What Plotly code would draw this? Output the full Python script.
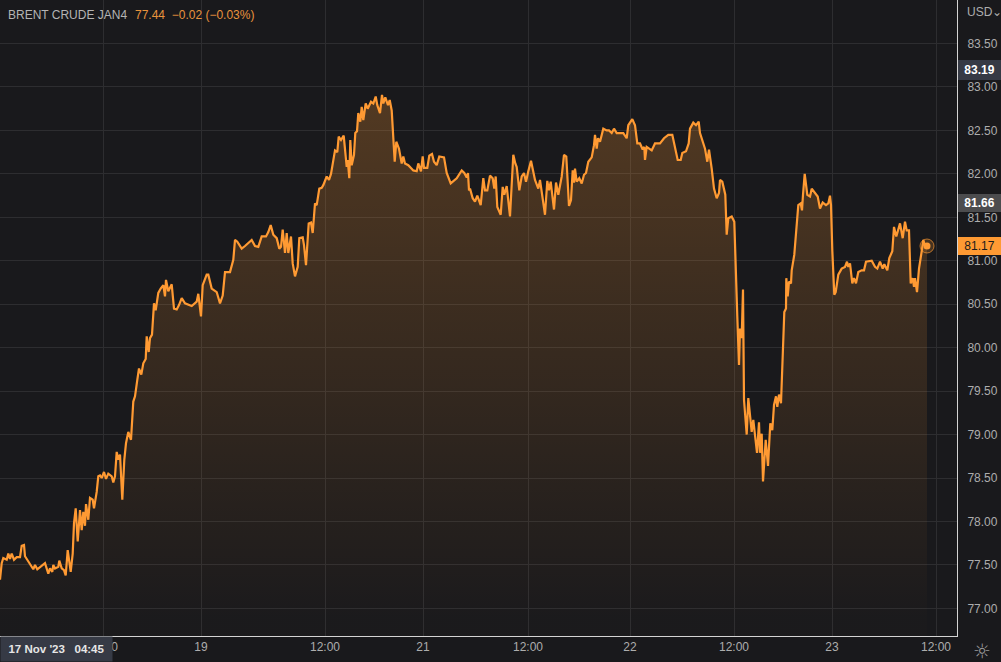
import plotly.graph_objects as go

# values, bar = position on the session timeline
bars_a = [0, 1.7, 3.3, 6.7, 8.3, 10, 11.7, 14, 16.7, 20, 21.7, 24, 25, 28.3, 33.3, 35, 37.3, 45, 48.3, 50, 52.3, 53.3, 55, 58.3, 59.3, 61.7, 64, 65.7, 67.7, 70.7, 72.7, 74, 75.7, 77.7, 80, 81.7, 83.3, 85, 86, 88.3, 90, 92.7, 94, 96.7, 98.3, 100, 101.7, 104, 106, 108.3, 111.7, 113.3, 115, 116.7, 118.3, 120, 122.3, 124.3, 126, 128.3, 131, 133.3, 135, 137.3, 139, 141.3, 143.3, 145.7, 146.7, 148.7, 150, 152, 154, 155.7, 158.3, 160.7, 163.3, 165, 166, 168.3, 171.7, 174, 176.7, 179, 181.7, 185, 191.7, 196.7, 198.3, 201, 202.7, 206.7, 208.3, 211.7, 216.7, 220, 222.7, 225]
prices_a = [77.33, 77.52, 77.58, 77.56, 77.63, 77.57, 77.63, 77.56, 77.59, 77.59, 77.72, 77.73, 77.60, 77.54, 77.45, 77.50, 77.45, 77.52, 77.40, 77.46, 77.42, 77.50, 77.46, 77.48, 77.55, 77.46, 77.44, 77.38, 77.67, 77.42, 77.63, 77.98, 78.15, 77.77, 78.13, 77.90, 78.11, 77.95, 78.20, 78.02, 78.27, 78.25, 78.15, 78.34, 78.52, 78.53, 78.50, 78.57, 78.49, 78.55, 78.52, 78.45, 78.52, 78.80, 78.71, 78.77, 78.25, 78.71, 78.90, 79.03, 78.94, 79.38, 79.44, 79.63, 79.76, 79.69, 79.82, 79.87, 80.13, 79.95, 80.11, 80.15, 80.51, 80.43, 80.63, 80.68, 80.72, 80.59, 80.78, 80.65, 80.73, 80.45, 80.44, 80.49, 80.57, 80.51, 80.48, 80.53, 80.62, 80.36, 80.72, 80.84, 80.84, 80.68, 80.64, 80.51, 80.60, 80.87]

bars_b = [230, 233.3, 235, 237.3, 241.7, 245, 250, 251.7, 255, 258.3, 261.7, 266, 268.3, 270.7, 273.3, 276.7, 279.3, 281, 282.7, 285, 286.7, 288.3, 291, 292.7, 295, 297.7, 299.3, 302.7, 304, 306, 308.7, 311, 312.7, 315, 316.7, 319.3, 321.7, 323.3, 326.7, 329, 331, 335, 337.3, 338.7, 341, 343.7, 346.7, 347.7, 349.3, 350.3, 351.7, 354, 355.3, 357, 358.3, 360.3, 361.7, 363.3, 365.7, 367.7, 371, 373.3, 375.7, 377.3, 380, 382, 383.3, 385.3, 388, 389.7, 391.7, 393.3, 394.7, 396.3, 399, 401.7, 403.3, 405, 408.3, 413.3, 416.7, 418.3, 421, 422.7, 424, 427.3, 429.3, 432, 434, 436.7, 439.3, 444, 446.7, 450.7, 453.3, 456.7, 461.7, 464.3, 466.7, 468, 469]
prices_b = [80.87, 81.01, 81.24, 81.22, 81.14, 81.17, 81.22, 81.24, 81.17, 81.16, 81.28, 81.28, 81.33, 81.41, 81.30, 81.26, 81.14, 81.16, 81.36, 81.09, 81.32, 81.09, 81.28, 80.97, 80.82, 80.93, 81.26, 81.27, 81.18, 80.95, 81.43, 81.44, 81.32, 81.66, 81.64, 81.83, 81.84, 81.87, 81.97, 81.93, 82.00, 82.27, 82.25, 82.43, 82.39, 82.44, 82.08, 82.16, 81.95, 82.39, 82.10, 82.22, 82.47, 82.49, 82.70, 82.60, 82.77, 82.62, 82.81, 82.75, 82.83, 82.81, 82.89, 82.79, 82.70, 82.91, 82.81, 82.88, 82.79, 82.85, 82.73, 82.47, 82.14, 82.37, 82.29, 82.12, 82.20, 82.12, 82.10, 82.04, 82.03, 82.12, 82.03, 82.20, 82.07, 82.07, 82.21, 82.23, 82.14, 82.10, 82.20, 82.19, 82.01, 81.89, 81.92, 81.95, 82.04, 82.01, 81.96, 82.01, 81.81]

bars_c = [470, 472.7, 475, 477.3, 480.7, 483.3, 485, 487.3, 490, 492.7, 494.3, 495.7, 497.3, 500.7, 502.7, 504.3, 506.7, 510, 513.3, 515.3, 516.7, 519.3, 521.7, 524, 526, 528.3, 531, 535, 538.3, 540, 542.7, 545, 547.3, 549, 550.7, 554, 556, 558.3, 561.7, 564, 566.3, 569, 571, 572.7, 574, 575, 576.7, 579.3, 581.7, 584, 586, 588.3, 591.7, 594, 595, 596.7, 598, 600, 603.3, 606.7, 609, 611.7, 614, 616.7, 623.3, 626.7, 628.3, 632.3, 635, 637.3, 640, 642.7, 644.3, 645, 646.7, 651.7, 655, 660, 664, 668.3, 672.3, 674.3, 677.7, 680.7, 682.3, 686, 688.7, 690, 693.3, 696, 698.7]
prices_c = [81.83, 81.72, 81.68, 81.75, 81.64, 81.95, 81.81, 81.81, 81.98, 81.95, 81.83, 81.97, 81.62, 81.53, 81.85, 81.76, 81.86, 81.51, 82.22, 82.12, 82.08, 81.81, 81.97, 82.01, 81.91, 82.03, 82.15, 81.93, 81.83, 81.93, 81.70, 81.53, 81.92, 81.81, 81.91, 81.59, 81.90, 81.76, 81.97, 82.22, 82.20, 81.63, 81.70, 82.04, 81.90, 82.06, 81.91, 81.95, 81.89, 81.99, 82.01, 82.14, 82.19, 82.33, 82.45, 82.29, 82.41, 82.37, 82.52, 82.50, 82.50, 82.47, 82.52, 82.47, 82.47, 82.41, 82.56, 82.63, 82.56, 82.35, 82.35, 82.28, 82.31, 82.16, 82.31, 82.27, 82.35, 82.35, 82.41, 82.45, 82.45, 82.35, 82.16, 82.16, 82.24, 82.26, 82.35, 82.52, 82.59, 82.56, 82.60]

bars_d = [700, 705, 707.3, 709, 711.7, 714, 716.7, 719, 720, 722.3, 725.3, 726.7, 728.3, 731.7, 734.3, 736, 737.3, 739, 740, 741.7, 743, 744, 746.7, 748.3, 750, 751.7, 753.3, 755, 757, 759, 760, 761.7, 763, 765.7, 768, 770.3, 772.3, 774, 776, 777.3, 779, 781, 783.3, 784.3, 786, 786.3, 787.7, 789, 791, 791.7, 794.3, 795.7, 797.3, 798.3, 800.7, 802, 803, 804.7, 807.3, 810]
prices_d = [82.47, 82.29, 82.14, 82.28, 82.06, 81.83, 81.72, 81.78, 81.93, 81.91, 81.76, 81.30, 81.49, 81.51, 81.45, 80.66, 80.36, 79.80, 80.22, 80.11, 80.67, 79.40, 79.00, 79.42, 79.21, 79.03, 79.17, 79.01, 78.79, 79.14, 78.79, 79.01, 78.46, 78.94, 78.64, 79.13, 79.05, 79.34, 79.44, 79.32, 79.46, 79.36, 80.01, 80.41, 80.45, 80.80, 80.59, 80.76, 80.74, 80.89, 81.07, 81.24, 81.43, 81.64, 81.66, 81.58, 81.76, 82.00, 81.76, 81.74]

bars_e = [811.7, 815, 817.7, 820, 822.7, 826, 828.3, 830, 831, 832.3, 834.3, 835.7, 838.3, 841.7, 845, 847, 848.3, 850, 852.3, 854, 856, 858.3, 861.7, 864, 866, 871.7, 875, 877.3, 880, 882.7, 884.3, 887.3, 889.3, 892.3, 894, 896.3, 900, 902.7, 905, 906.7, 909, 910.7, 912.7, 914, 915, 917, 919, 921.7, 923.3, 925, 927]
prices_e = [81.83, 81.78, 81.74, 81.60, 81.67, 81.64, 81.66, 81.75, 81.64, 81.12, 80.61, 80.64, 80.84, 80.91, 80.93, 80.99, 80.93, 80.97, 80.74, 80.80, 80.74, 80.87, 80.89, 80.89, 80.99, 81.00, 80.93, 80.91, 80.99, 80.91, 80.96, 80.89, 81.03, 81.11, 81.39, 81.28, 81.43, 81.26, 81.45, 81.35, 81.35, 80.74, 80.80, 80.70, 80.80, 80.64, 80.91, 81.11, 81.24, 81.17, 81.17]

bars = bars_a + bars_b + bars_c + bars_d + bars_e
prices = prices_a + prices_b + prices_c + prices_d + prices_e

x_ticks = [103, 201, 325, 423, 528, 630, 734, 832, 936]
x_labels = ['12:00', '19', '12:00', '21', '12:00', '22', '12:00', '23', '12:00']
y_ticks = [77, 77.5, 78, 78.5, 79, 79.5, 80, 80.5, 81, 81.5, 82, 82.5, 83, 83.5]
y_labels = ['%.2f' % v for v in y_ticks]

BG = '#19191c'
GRID = '#2d2d30'
AXIS = '#d4d4d4'
TEXT = '#adadad'
ORANGE = '#ff9a33'
FONT = 'Liberation Sans'

fig = go.Figure()

fig.add_trace(go.Scatter(
    x=bars, y=prices, mode='lines',
    line=dict(color=ORANGE, width=2.2),
    fill='tozeroy',
    fillgradient=dict(type='vertical', start=76.9, stop=82.9, colorscale=[
        [0, 'rgba(255,154,51,0.01)'],
        [1, 'rgba(255,154,51,0.25)'],
    ]),
    hoverinfo='skip',
))

# last price marker
fig.add_trace(go.Scatter(
    x=[bars[-1]], y=[prices[-1]], mode='markers',
    marker=dict(size=14, color='rgba(255,154,51,0.2)', line=dict(color='rgba(255,154,51,0.65)', width=1)),
    hoverinfo='skip',
))
fig.add_trace(go.Scatter(
    x=[bars[-1]], y=[prices[-1]], mode='markers',
    marker=dict(size=7, color=ORANGE),
    hoverinfo='skip',
))


def price_badge(value, bg, color, h):
    fig.add_annotation(
        xref='paper', x=1.0, xanchor='left', yref='y', y=value, yanchor='middle', xshift=1,
        text='<b>%.2f</b>' % value if color == '#ffffff' else '%.2f' % value,
        showarrow=False, align='center', width=43, height=h, bgcolor=bg,
        font=dict(family=FONT, size=12, color=color), borderpad=0, borderwidth=0,
    )


price_badge(83.19, '#363a45', '#ffffff', 20)
price_badge(81.66, '#4c4c4e', '#ffffff', 18)
price_badge(81.17, ORANGE, '#1c1c1c', 18)

fig.add_annotation(
    xref='paper', yref='paper', x=6 / 957, y=1 - 15 / 636, xanchor='left', yanchor='middle',
    text='BRENT CRUDE JAN4', showarrow=False, font=dict(family=FONT, size=12, color='#b4b4b4'),
)
fig.add_annotation(
    xref='paper', yref='paper', x=133 / 957, y=1 - 15 / 636, xanchor='left', yanchor='middle',
    text='77.44  \u22120.02 (\u22120.03%)', showarrow=False, font=dict(family=FONT, size=12, color='#e8933c'),
)
fig.add_annotation(
    xref='paper', yref='paper', x=1.0, y=1 - 12 / 636, xanchor='left', yanchor='middle', xshift=8,
    text='USD\u2304', showarrow=False, font=dict(family=FONT, size=12, color=TEXT),
)
fig.add_annotation(
    xref='paper', yref='paper', x=0, y=0, xanchor='left', yanchor='top',
    text="<b>17 Nov '23   04:45</b>", showarrow=False, width=111, height=24, bgcolor='#363a45',
    font=dict(family=FONT, size=11.5, color='#e6e6e6'), borderpad=0,
)
fig.add_annotation(
    xref='paper', yref='paper', x=1.0, y=0, xanchor='left', yanchor='top', xshift=14, yshift=-1,
    text='\u263c', showarrow=False, font=dict(family='DejaVu Sans', size=20, color='#9a9a9a'),
)

fig.update_layout(
    width=1001, height=662,
    margin=dict(l=0, r=44, t=0, b=26),
    paper_bgcolor=BG, plot_bgcolor=BG,
    showlegend=False,
    font=dict(family=FONT, size=12, color=TEXT),
    xaxis=dict(
        range=[0, 957], tickmode='array', tickvals=x_ticks, ticktext=x_labels,
        showgrid=True, gridcolor=GRID, gridwidth=1, zeroline=False,
        showline=True, linecolor=AXIS, linewidth=1, ticks='', fixedrange=True,
    ),
    yaxis=dict(
        range=[76.682, 84.001], side='right', tickmode='array', tickvals=y_ticks, ticktext=y_labels,
        showgrid=True, gridcolor=GRID, gridwidth=1, zeroline=False, ticklabelstandoff=7,
        showline=True, linecolor=AXIS, linewidth=1, ticks='', fixedrange=True,
    ),
)

fig.write_html('out.html', config={'displayModeBar': False},
               post_script="document.body.style.margin='0';document.body.style.overflow='hidden';document.body.style.background='%s';" % BG)
